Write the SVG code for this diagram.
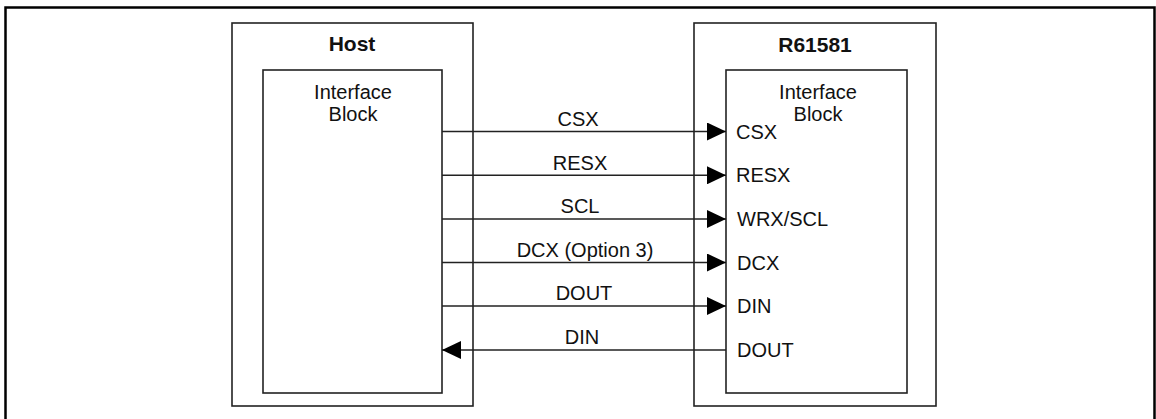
<svg xmlns="http://www.w3.org/2000/svg" width="1156" height="419" viewBox="0 0 1156 419">
<defs>
<style>
.frame{fill:none;stroke:#000;stroke-width:2.5}
.box{fill:none;stroke:#222;stroke-width:1.6}
.wire{fill:none;stroke:#222;stroke-width:1.4}
.t{font-family:"Liberation Sans",Arial,sans-serif;font-size:20px;fill:#111}
.title{font-family:"Liberation Sans",Arial,sans-serif;font-size:21px;font-weight:bold;fill:#111}
.c{text-anchor:middle}
</style>
<marker id="ah" markerWidth="19" markerHeight="18" refX="19" refY="9" orient="auto" markerUnits="userSpaceOnUse">
<path d="M0,0 L19,9 L0,18 Z" fill="#000"/>
</marker>
</defs>
<rect width="1156" height="419" fill="#fff"/>
<path class="frame" d="M5.5,425 V7.5 H1154.5 V425"/>
<g id="host">
<rect class="box" x="232" y="23" width="241" height="383"/>
<text class="title c" x="352" y="51">Host</text>
<g id="host-if">
<rect class="box" x="263" y="70" width="179" height="323"/>
<text class="t c" x="353" y="99">Interface</text>
<text class="t c" x="353" y="121">Block</text>
</g>
</g>
<g id="r61581">
<rect class="box" x="694" y="23" width="242" height="383"/>
<text class="title c" x="815" y="52">R61581</text>
<g id="r-if">
<rect class="box" x="726" y="70" width="181" height="323"/>
<text class="t c" x="818" y="99">Interface</text>
<text class="t c" x="818" y="121">Block</text>
<text class="t" x="736" y="139">CSX</text>
<text class="t" x="736" y="182">RESX</text>
<text class="t" x="737" y="226">WRX/SCL</text>
<text class="t" x="737" y="270">DCX</text>
<text class="t" x="737" y="313">DIN</text>
<text class="t" x="737" y="357">DOUT</text>
</g>
</g>
<g id="connectors">
<line class="wire" x1="442" y1="131.5" x2="726" y2="131.5" marker-end="url(#ah)"/>
<line class="wire" x1="442" y1="175.3" x2="726" y2="175.3" marker-end="url(#ah)"/>
<line class="wire" x1="442" y1="219" x2="726" y2="219" marker-end="url(#ah)"/>
<line class="wire" x1="442" y1="262.5" x2="726" y2="262.5" marker-end="url(#ah)"/>
<line class="wire" x1="442" y1="306" x2="726" y2="306" marker-end="url(#ah)"/>
<line class="wire" x1="726" y1="350" x2="442" y2="350" marker-end="url(#ah)"/>
<text class="t c" x="578" y="126">CSX</text>
<text class="t c" x="580" y="169.5">RESX</text>
<text class="t c" x="580" y="213">SCL</text>
<text class="t c" x="585" y="256.5">DCX (Option 3)</text>
<text class="t c" x="584" y="300">DOUT</text>
<text class="t c" x="582" y="344">DIN</text>
</g>
</svg>
